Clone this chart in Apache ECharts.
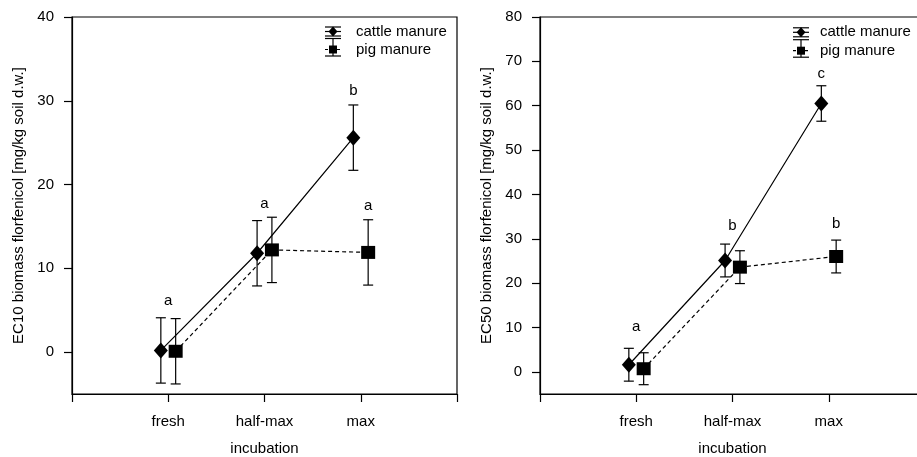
<!DOCTYPE html>
<html><head><meta charset="utf-8">
<script src="https://cdn.jsdelivr.net/npm/echarts@6/dist/echarts.min.js"></script>
<style>html,body{margin:0;padding:0;background:#fff}#c{width:917px;height:457px}</style>
</head><body><div id="c"></div>
<script>
// ---- data ----
const categories = ['fresh', 'half-max', 'max'];
const yTicksEC10 = [0, 10, 20, 30, 40];
const yTicksEC50 = [0, 10, 20, 30, 40, 50, 60, 70, 80];
const seriesNames = ['cattle manure', 'pig manure'];

const ec10Cattle = [0.2, 11.8, 25.6];
const ec10CattleErr = [3.9, 3.9, 3.9];
const ec10Pig = [0.1, 12.2, 11.9];
const ec10PigErr = [3.9, 3.9, 3.9];

const ec50Cattle = [1.6, 25.1, 60.5];
const ec50CattleErr = [3.7, 3.7, 4.0];
const ec50Pig = [0.7, 23.6, 26.0];
const ec50PigErr = [3.6, 3.7, 3.7];

const ec10LetterText = ['a', 'a', 'b', 'a'];
const ec10LetterAt = ['fresh', 'half-max', 'max', 'max'];
const ec10LetterSeries = ['both', 'both', 'cattle', 'pig'];
const ec10LetterY = [6.15, 17.7, 31.2, 17.5];

const ec50LetterText = ['a', 'b', 'c', 'b'];
const ec50LetterAt = ['fresh', 'half-max', 'max', 'max'];
const ec50LetterSeries = ['both', 'both', 'cattle', 'pig'];
const ec50LetterY = [10.1, 32.9, 67.1, 33.3];

// ---- styling / layout ----
const FONT = "'Liberation Sans', Arial, sans-serif";
const FS = 15;
const shift = { cattle: -0.077, pig: 0.077, both: 0 };
const LW = 1.2;

function xPos(catIdx, who) { return catIdx + 1 + shift[who]; }

function errRender(params, api) {
  const x = api.value(0), lo = api.value(1), hi = api.value(2);
  const pLo = api.coord([x, lo]);
  const pHi = api.coord([x, hi]);
  const cw = 5;
  const st = { stroke: '#000', lineWidth: LW };
  return {
    type: 'group',
    children: [
      { type: 'line', shape: { x1: pLo[0], y1: pLo[1], x2: pHi[0], y2: pHi[1] }, style: st },
      { type: 'line', shape: { x1: pHi[0] - cw, y1: pHi[1], x2: pHi[0] + cw, y2: pHi[1] }, style: st },
      { type: 'line', shape: { x1: pLo[0] - cw, y1: pLo[1], x2: pLo[0] + cw, y2: pLo[1] }, style: st }
    ]
  };
}

function panel(i, gridLeft, cattle, cattleErr, pig, pigErr, yMin, yMax, ticks, yName,
               lText, lAt, lSeries, lY) {
  const grid = { left: gridLeft, top: 17, width: 385, height: 377, show: true,
                 outerBoundsMode: 'none', containLabel: false,
                 borderColor: '#000', borderWidth: LW, backgroundColor: 'transparent' };
  const xAxis = {
    gridIndex: i, type: 'value', min: 0, max: 4, interval: 1,
    axisLine: { show: true, onZero: false, lineStyle: { color: '#000', width: LW } },
    axisTick: { show: true, length: 8, lineStyle: { color: '#000', width: LW } },
    axisLabel: { color: '#000', fontFamily: FONT, fontSize: FS, margin: 20,
                 formatter: v => categories[v - 1] || '' },
    splitLine: { show: false },
    name: 'incubation', nameLocation: 'middle', nameGap: 47,
    nameTextStyle: { color: '#000', fontFamily: FONT, fontSize: FS }
  };
  const yAxis = {
    gridIndex: i, type: 'value', min: yMin, max: yMax,
    axisLine: { show: true, onZero: false, lineStyle: { color: '#000', width: LW } },
    axisTick: { show: true, length: 8, customValues: ticks, lineStyle: { color: '#000', width: LW } },
    axisLabel: { color: '#000', fontFamily: FONT, fontSize: FS, margin: 18, customValues: ticks },
    splitLine: { show: false },
    name: yName, nameLocation: 'middle', nameGap: 46,
    nameTextStyle: { color: '#000', fontFamily: FONT, fontSize: FS }
  };
  const series = [
    { type: 'custom', xAxisIndex: i, yAxisIndex: i, renderItem: errRender, z: 2,
      encode: { x: 0, y: [1, 2] },
      data: cattle.map((v, k) => [xPos(k, 'cattle'), v - cattleErr[k], v + cattleErr[k]])
        .concat(pig.map((v, k) => [xPos(k, 'pig'), v - pigErr[k], v + pigErr[k]])) },
    { type: 'line', name: seriesNames[0], xAxisIndex: i, yAxisIndex: i, z: 3,
      data: cattle.map((v, k) => [xPos(k, 'cattle'), v]),
      symbol: 'diamond', symbolSize: [14, 16], showAllSymbol: true,
      itemStyle: { color: '#000' }, lineStyle: { color: '#000', width: LW } },
    { type: 'line', name: seriesNames[1], xAxisIndex: i, yAxisIndex: i, z: 3,
      data: pig.map((v, k) => [xPos(k, 'pig'), v]),
      symbol: 'rect', symbolSize: [14, 13], showAllSymbol: true,
      itemStyle: { color: '#000' }, lineStyle: { color: '#000', width: LW, type: [4, 3] } },
    { type: 'scatter', xAxisIndex: i, yAxisIndex: i, symbolSize: 0, z: 4, silent: true,
      itemStyle: { color: '#000', opacity: 1 },
      data: lText.map((t, k) => ({
        value: [xPos(categories.indexOf(lAt[k]), lSeries[k]), lY[k]],
        label: { show: true, position: 'inside', formatter: t, color: '#000',
                 textBorderWidth: 0, textBorderColor: 'transparent',
                 fontFamily: FONT, fontSize: FS }
      })) }
  ];
  return { grid, xAxis, yAxis, series };
}

function legendGraphic(cx, textX, y1, y2) {
  const st = { stroke: '#000', lineWidth: LW };
  const hw = 8;
  const els = [];
  // cattle row
  els.push({ type: 'line', shape: { x1: cx - hw, y1: y1, x2: cx + hw, y2: y1 }, style: st });
  els.push({ type: 'line', shape: { x1: cx - hw, y1: y1 - 4.5, x2: cx + hw, y2: y1 - 4.5 }, style: st });
  els.push({ type: 'line', shape: { x1: cx - hw, y1: y1 + 4.5, x2: cx + hw, y2: y1 + 4.5 }, style: st });
  els.push({ type: 'line', shape: { x1: cx, y1: y1 - 4.5, x2: cx, y2: y1 + 4.5 }, style: st });
  els.push({ type: 'polygon', shape: { points: [[cx, y1 - 5], [cx + 4.5, y1], [cx, y1 + 5], [cx - 4.5, y1]] },
             style: { fill: '#000' } });
  els.push({ type: 'text', x: textX, y: y1, style: { text: seriesNames[0], fill: '#000',
             font: FS + 'px ' + FONT, verticalAlign: 'middle', align: 'left' } });
  // pig row
  els.push({ type: 'line', shape: { x1: cx - hw, y1: y2, x2: cx + hw, y2: y2 },
             style: { stroke: '#000', lineWidth: LW, lineDash: [3, 3] } });
  els.push({ type: 'line', shape: { x1: cx - hw, y1: y2 - 11, x2: cx + hw, y2: y2 - 11 }, style: st });
  els.push({ type: 'line', shape: { x1: cx - hw, y1: y2 + 6.5, x2: cx + hw, y2: y2 + 6.5 }, style: st });
  els.push({ type: 'line', shape: { x1: cx, y1: y2 - 11, x2: cx, y2: y2 + 6.5 }, style: st });
  els.push({ type: 'rect', shape: { x: cx - 4, y: y2 - 4, width: 8, height: 8 }, style: { fill: '#000' } });
  els.push({ type: 'text', x: textX, y: y2, style: { text: seriesNames[1], fill: '#000',
             font: FS + 'px ' + FONT, verticalAlign: 'middle', align: 'left' } });
  return els;
}

const p1 = panel(0, 72, ec10Cattle, ec10CattleErr, ec10Pig, ec10PigErr, -5, 40, yTicksEC10,
  'EC10 biomass florfenicol [mg/kg soil d.w.]', ec10LetterText, ec10LetterAt, ec10LetterSeries, ec10LetterY);
const p2 = panel(1, 540, ec50Cattle, ec50CattleErr, ec50Pig, ec50PigErr, -5, 80, yTicksEC50,
  'EC50 biomass florfenicol [mg/kg soil d.w.]', ec50LetterText, ec50LetterAt, ec50LetterSeries, ec50LetterY);

const chart = echarts.init(document.getElementById('c'), null, { renderer: 'canvas' });
chart.setOption({
  animation: false,
  backgroundColor: '#fff',
  grid: [p1.grid, p2.grid],
  xAxis: [p1.xAxis, p2.xAxis],
  yAxis: [p1.yAxis, p2.yAxis],
  series: p1.series.concat(p2.series),
  graphic: legendGraphic(333, 356, 31.5, 49.5).concat(legendGraphic(801, 820, 32.3, 50.7))
});
</script>
</body></html>
